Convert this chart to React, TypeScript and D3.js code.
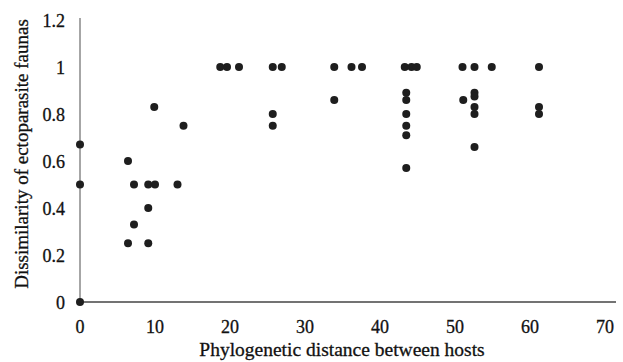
import React, { useRef, useEffect } from 'react';
import * as d3 from 'd3';

// phylogenetic distance (x) and dissimilarity (y)
const distance = [
  0, 0, 0,
  6.4, 6.4, 7.2, 7.2, 9.1, 9.1, 9.1, 10, 9.9, 13, 13.8,
  18.7, 19.6, 21.2,
  25.7, 26.9, 25.7, 25.7,
  33.9, 36.2, 37.6, 33.9,
  43.3, 44.2, 44.9, 43.5, 43.5, 43.5, 43.5, 43.5, 43.5,
  51.0, 52.6, 54.9, 51.1, 52.6, 52.6, 52.6, 52.6, 52.6,
  61.2, 61.2, 61.2,
];
const dissimilarity = [
  0, 0.5, 0.67,
  0.6, 0.25, 0.5, 0.33, 0.5, 0.4, 0.25, 0.5, 0.83, 0.5, 0.75,
  1, 1, 1,
  1, 1, 0.8, 0.75,
  1, 1, 1, 0.86,
  1, 1, 1, 0.89, 0.86, 0.8, 0.75, 0.71, 0.57,
  1, 1, 1, 0.86, 0.89, 0.875, 0.83, 0.8, 0.66,
  1, 0.83, 0.8,
];
const xTicks = [0, 10, 20, 30, 40, 50, 60, 70];
const yTicks = [0, 0.2, 0.4, 0.6, 0.8, 1, 1.2];

const W = 623;
const H = 362;

const App = () => {
  const svgRef = useRef<SVGSVGElement>(null);

  useEffect(() => {
    const svg = d3.select(svgRef.current);
    svg.selectAll('*').remove();

    const x = d3.scaleLinear().domain([0, 70]).range([80, 605]);
    const y = d3.scaleLinear().domain([0, 1.2]).range([302, 20]);
    const font = 'Liberation Serif, DejaVu Serif, serif';

    // axes lines
    svg.append('line')
      .attr('x1', x(0)).attr('x2', 616)
      .attr('y1', y(0)).attr('y2', y(0))
      .attr('stroke', '#444').attr('stroke-width', 1.3);
    svg.append('line')
      .attr('x1', x(0)).attr('x2', x(0))
      .attr('y1', y(0)).attr('y2', y(1.2) - 2)
      .attr('stroke', '#888').attr('stroke-width', 1.5);

    // tick labels
    svg.append('g')
      .selectAll('text')
      .data(xTicks)
      .enter()
      .append('text')
      .attr('x', d => x(d))
      .attr('y', 333)
      .attr('text-anchor', 'middle')
      .style('font-family', font)
      .attr('font-size', 18)
      .attr('fill', '#111')
      .attr('stroke', '#111').attr('stroke-width', 0.3)
      .text(d => d);

    svg.append('g')
      .selectAll('text')
      .data(yTicks)
      .enter()
      .append('text')
      .attr('x', 65)
      .attr('y', d => y(d) + 7)
      .attr('text-anchor', 'end')
      .style('font-family', font)
      .attr('font-size', 18)
      .attr('fill', '#111')
      .attr('stroke', '#111').attr('stroke-width', 0.3)
      .text(d => d);

    // titles
    svg.append('text')
      .attr('x', 342)
      .attr('y', 356)
      .attr('text-anchor', 'middle')
      .style('font-family', font)
      .attr('font-size', 19.5)
      .attr('fill', '#111')
      .attr('stroke', '#111').attr('stroke-width', 0.3)
      .text('Phylogenetic  distance between hosts');

    svg.append('text')
      .attr('transform', `translate(28, 154) rotate(-90)`)
      .attr('text-anchor', 'middle')
      .style('font-family', font)
      .attr('font-size', 19)
      .attr('fill', '#111')
      .attr('stroke', '#111').attr('stroke-width', 0.3)
      .text('Dissimilarity  of ectoparasite faunas');

    // points
    svg.append('g')
      .selectAll('circle')
      .data(distance.map((d, i) => [d, dissimilarity[i]]))
      .enter()
      .append('circle')
      .attr('cx', d => x(d[0]))
      .attr('cy', d => y(d[1]))
      .attr('r', 4)
      .attr('fill', '#1e1e1e');
  }, []);

  return <svg ref={svgRef} width={W} height={H} style={{ position: 'absolute', left: 0, top: 0 }}></svg>;
};

export default App;
